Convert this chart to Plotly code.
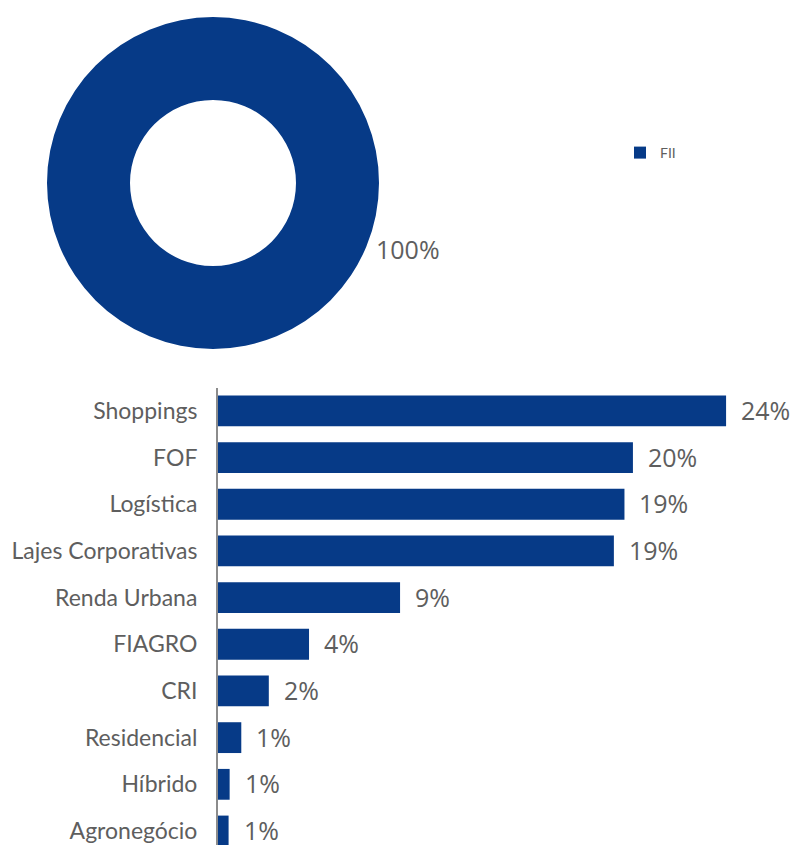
import plotly.graph_objects as go

# ---- data ----
pie_labels = ["FII"]
pie_values = [100]
pie_text = "100%"

categories = ["Shoppings", "FOF", "Logística", "Lajes Corporativas", "Renda Urbana",
              "FIAGRO", "CRI", "Residencial", "Híbrido", "Agronegócio"]
values = [24.0, 19.6, 19.2, 18.7, 8.6, 4.3, 2.4, 1.1, 0.55, 0.5]
value_labels = ["24%", "20%", "19%", "19%", "9%", "4%", "2%", "1%", "1%", "1%"]

BLUE = "#063a87"
GRAY = "#5e5e5e"
FONT = "Lato"
NUMFONT = "Open Sans"
W, H = 796, 845

fig = go.Figure()

fig.add_trace(go.Pie(
    labels=pie_labels, values=pie_values, hole=0.5, sort=False,
    marker=dict(colors=[BLUE], line=dict(width=0)),
    textinfo="none", showlegend=True,
    domain=dict(x=[47 / W, 379 / W], y=[1 - 349 / H, 1 - 17 / H]),
))

fig.add_trace(go.Bar(
    x=values, y=categories, orientation="h", width=0.66,
    marker=dict(color=BLUE, line=dict(width=0)),
    showlegend=False, hoverinfo="x+y",
))

for v, c, t in zip(values, categories, value_labels):
    fig.add_annotation(x=v, y=c, xref="x", yref="y", text=t, showarrow=False,
                       xanchor="left", yanchor="middle", xshift=13, yshift=1,
                       font=dict(family=NUMFONT, size=25, color=GRAY))

fig.add_annotation(x=374 / W, y=1 - 249 / H, xref="paper", yref="paper", text=pie_text,
                   showarrow=False, xanchor="left", yanchor="middle",
                   font=dict(family=NUMFONT, size=25, color=GRAY))

fig.update_layout(
    width=W, height=H,
    margin=dict(l=0, r=0, t=0, b=0),
    paper_bgcolor="white", plot_bgcolor="white",
    font=dict(family=FONT, color=GRAY),
    bargap=0.34,
    xaxis=dict(domain=[218 / W, 1], range=[0, 578 / 21.17], visible=False, fixedrange=True),
    yaxis=dict(domain=[0, 1 - 388 / H], range=[9.30, -0.49], showline=True,
               linecolor="#8c8c8c", linewidth=2, showgrid=False, zeroline=False,
               ticks="", ticklabelstandoff=14,
               tickfont=dict(family=FONT, size=23, color=GRAY)),
    legend=dict(x=620 / W, y=1 - 153 / H, xanchor="left", yanchor="middle",
                font=dict(family=FONT, size=14, color=GRAY), itemwidth=30,
                bgcolor="rgba(0,0,0,0)"),
)

fig.write_html("out.html", config={"displayModeBar": False},
               post_script="document.body.style.margin='0';")
